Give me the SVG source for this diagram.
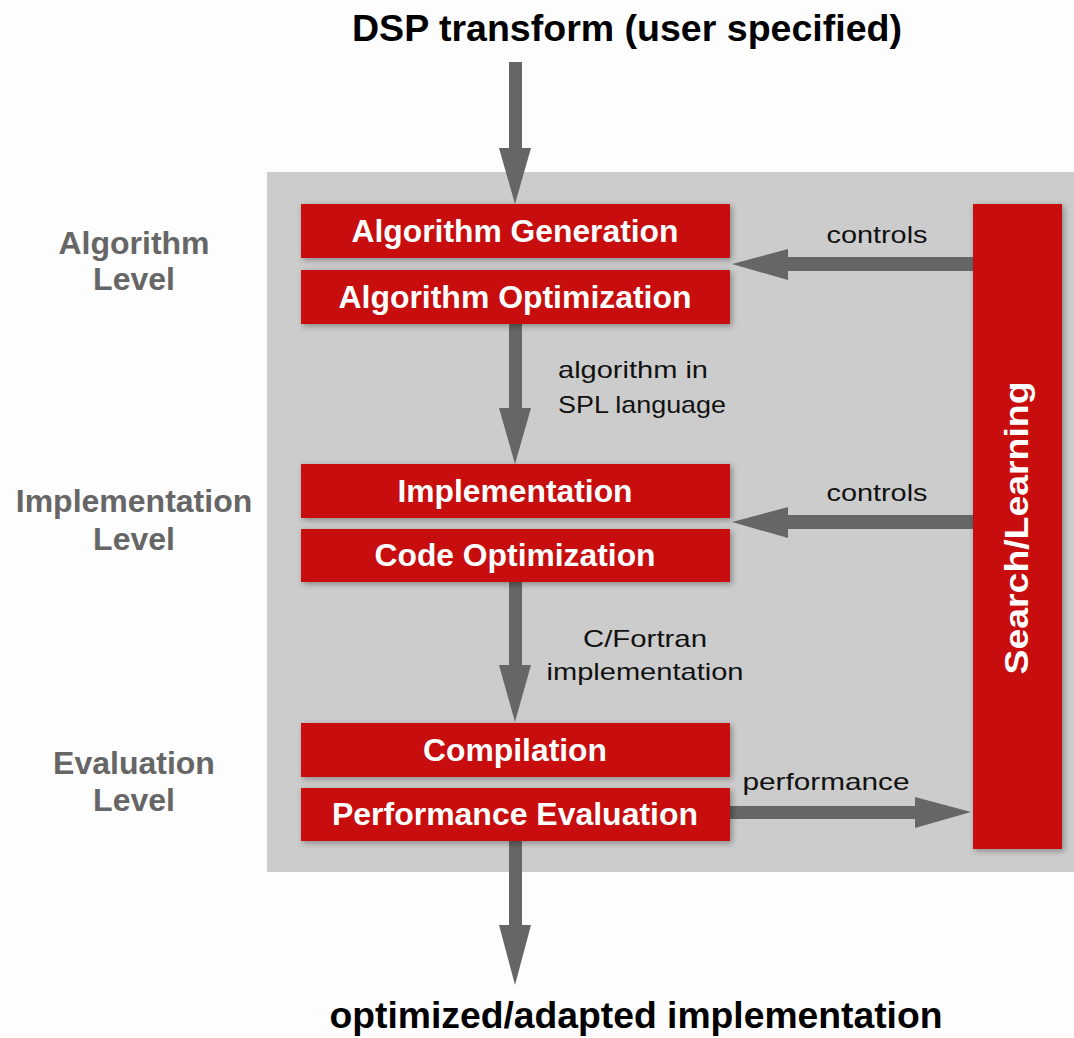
<svg xmlns="http://www.w3.org/2000/svg" width="1074" height="1038" viewBox="0 0 1074 1038">
<defs>
<filter id="sh" x="-10%" y="-30%" width="120%" height="160%">
<feDropShadow dx="2" dy="2" stdDeviation="3" flood-color="#000" flood-opacity="0.35"/>
</filter>
<style>
.box{fill:#c70a08;filter:url(#sh);}
.bt{font-family:"Liberation Sans",Arial,sans-serif;font-weight:bold;font-size:31px;fill:#fff;text-anchor:middle;}
.lv{font-family:"Liberation Sans",Arial,sans-serif;font-weight:bold;font-size:32px;fill:#666;text-anchor:middle;}
.lb{font-family:"Liberation Sans",Arial,sans-serif;font-size:24px;fill:#111;text-anchor:middle;}
.tt{font-family:"Liberation Sans",Arial,sans-serif;font-weight:bold;font-size:37px;fill:#000;text-anchor:middle;}
.ar{fill:#666;}
</style>
</defs>
<rect x="0" y="0" width="1074" height="1038" fill="#fdfdfd"/>
<rect id="panel" x="267" y="172" width="807" height="700" fill="#cccccc"/>

<text class="tt" x="627" y="41" textLength="550" lengthAdjust="spacingAndGlyphs">DSP transform (user specified)</text>
<text class="tt" x="636" y="1028" textLength="613" lengthAdjust="spacingAndGlyphs">optimized/adapted implementation</text>

<g id="levels">
<text class="lv" x="134" y="254">Algorithm</text>
<text class="lv" x="134" y="290">Level</text>
<text class="lv" x="134" y="512">Implementation</text>
<text class="lv" x="134" y="550">Level</text>
<text class="lv" x="134" y="774">Evaluation</text>
<text class="lv" x="134" y="811">Level</text>
</g>

<g id="connectors">
<rect class="ar" x="509" y="62" width="13" height="88"/>
<polygon class="ar" points="499,148 531,148 515,204"/>
<rect class="ar" x="509" y="322" width="13" height="88"/>
<polygon class="ar" points="499,408 531,408 515,464"/>
<rect class="ar" x="509" y="580" width="13" height="87"/>
<polygon class="ar" points="499,665 531,665 515,722"/>
<rect class="ar" x="509" y="839" width="13" height="88"/>
<polygon class="ar" points="499,925 531,925 515,985"/>
<rect class="ar" x="786" y="257" width="188" height="14"/>
<polygon class="ar" points="788,249 788,280 732,264"/>
<rect class="ar" x="786" y="515" width="188" height="14"/>
<polygon class="ar" points="788,507 788,538 732,522"/>
<rect class="ar" x="728" y="806" width="189" height="13"/>
<polygon class="ar" points="915,797 915,828 971,812"/>
<text class="lb" x="877" y="243" textLength="101" lengthAdjust="spacingAndGlyphs">controls</text>
<text class="lb" x="877" y="501" textLength="101" lengthAdjust="spacingAndGlyphs">controls</text>
<text class="lb" x="826" y="790" textLength="167" lengthAdjust="spacingAndGlyphs">performance</text>
<text class="lb" x="558" y="378" text-anchor="start" style="text-anchor:start" textLength="150" lengthAdjust="spacingAndGlyphs">algorithm in</text>
<text class="lb" x="558" y="413" text-anchor="start" style="text-anchor:start" textLength="168" lengthAdjust="spacingAndGlyphs">SPL language</text>
<text class="lb" x="645" y="647" textLength="124" lengthAdjust="spacingAndGlyphs">C/Fortran</text>
<text class="lb" x="645" y="680" textLength="197" lengthAdjust="spacingAndGlyphs">implementation</text>
</g>

<g id="algorithm-generation">
<rect class="box" x="301" y="204" width="429" height="54"/>
<text class="bt" x="515" y="242" textLength="327" lengthAdjust="spacingAndGlyphs">Algorithm Generation</text>
</g>
<g id="algorithm-optimization">
<rect class="box" x="301" y="270" width="429" height="54"/>
<text class="bt" x="515" y="308" textLength="353" lengthAdjust="spacingAndGlyphs">Algorithm Optimization</text>
</g>
<g id="implementation">
<rect class="box" x="301" y="464" width="429" height="54"/>
<text class="bt" x="515" y="502" textLength="235" lengthAdjust="spacingAndGlyphs">Implementation</text>
</g>
<g id="code-optimization">
<rect class="box" x="301" y="529" width="429" height="53"/>
<text class="bt" x="515" y="566" textLength="281" lengthAdjust="spacingAndGlyphs">Code Optimization</text>
</g>
<g id="compilation">
<rect class="box" x="301" y="723" width="429" height="54"/>
<text class="bt" x="515" y="761" textLength="184" lengthAdjust="spacingAndGlyphs">Compilation</text>
</g>
<g id="performance-evaluation">
<rect class="box" x="301" y="788" width="429" height="53"/>
<text class="bt" x="515" y="825" textLength="366" lengthAdjust="spacingAndGlyphs">Performance Evaluation</text>
</g>
<g id="search-learning">
<rect class="box" x="973" y="204" width="89" height="645"/>
<text class="bt" transform="translate(1028,528) rotate(-90)" x="0" y="0" font-size="34" style="font-size:34px" textLength="293" lengthAdjust="spacingAndGlyphs">Search/Learning</text>
</g>
</svg>
